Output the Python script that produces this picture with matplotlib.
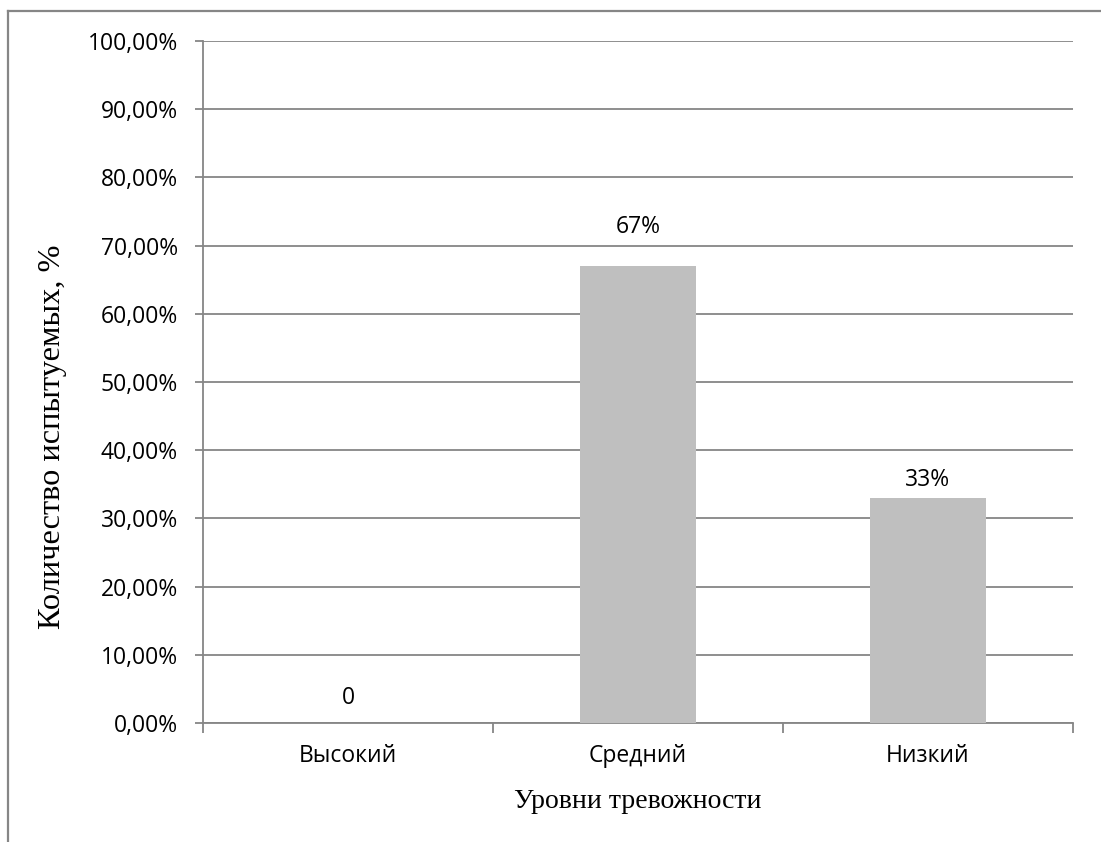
import matplotlib
matplotlib.use("Agg")
import matplotlib.pyplot as plt
from matplotlib.lines import Line2D
from matplotlib.ticker import FuncFormatter, FixedLocator

categories = ["Высокий", "Средний", "Низкий"]
values = [0.0, 0.67, 0.33]
value_labels = ["0", "67%", "33%"]
label_offsets = [18, 28, 13]  # points above bar top
y_ticks = [i / 10 for i in range(11)]

grid_col = "#868686"
bar_col = "#bfbfbf"

fig = plt.figure(figsize=(11.01, 8.42), dpi=100)
ax = fig.add_axes([203 / 1101, 1 - 723 / 842, 870 / 1101, 682 / 842])

x = list(range(len(categories)))
ax.bar(x, values, width=0.403, color=bar_col, zorder=3)

for xi, v, lab, off in zip(x, values, value_labels, label_offsets):
    ax.annotate(lab, (xi, v), xytext=(0, off), textcoords="offset points",
                ha="center", va="center", fontsize=16.5, family="Open Sans",
                color="black")

ax.set_xlim(-0.5, 2.5)
ax.set_ylim(0, 1.0)
ax.yaxis.set_major_locator(FixedLocator(y_ticks))
ax.yaxis.set_major_formatter(FuncFormatter(lambda v, p: f"{v * 100:.2f}%".replace(".", ",")))
ax.set_xticks(x)
ax.set_xticklabels(categories)
ax.set_xticks([-0.5, 0.5, 1.5, 2.5], minor=True)

ax.grid(axis="y", color=grid_col, linewidth=1.3, zorder=0)
for s in ["top", "right"]:
    ax.spines[s].set_visible(False)
for s in ["left", "bottom"]:
    ax.spines[s].set_color(grid_col)
    ax.spines[s].set_linewidth(1.3)

ax.tick_params(axis="y", length=6, width=1.3, color=grid_col, pad=12,
               labelsize=16.5)
ax.tick_params(axis="x", which="major", length=0, pad=15, labelsize=16.5)
ax.tick_params(axis="x", which="minor", length=7, width=1.3, color=grid_col)
for t in ax.get_xticklabels() + ax.get_yticklabels():
    t.set_family("Open Sans")

fig.text(638 / 1101, 1 - 801 / 842, "Уровни тревожности", ha="center",
         va="center", fontsize=20, family="Liberation Serif")
fig.text(53 / 1101, 1 - 437 / 842, "Количество испытуемых, %", ha="center",
         va="center", rotation=90, fontsize=23.3, family="Liberation Serif")

# chart frame (top and left edges)
fig.add_artist(Line2D([8 / 1101, 1.0], [1 - 10.5 / 842] * 2,
                      transform=fig.transFigure, color=grid_col, linewidth=1.6))
fig.add_artist(Line2D([8 / 1101] * 2, [0.0, 1 - 10.5 / 842],
                      transform=fig.transFigure, color=grid_col, linewidth=1.6))

fig.savefig("out.png", dpi=100, facecolor="white")
